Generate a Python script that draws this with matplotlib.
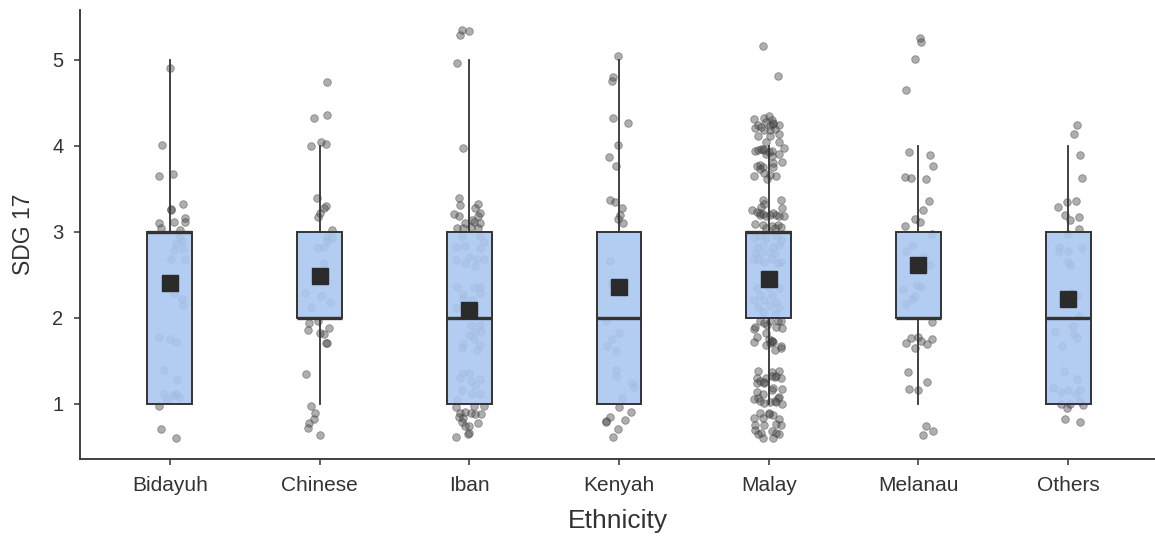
import matplotlib
matplotlib.use("Agg")
import matplotlib.pyplot as plt
import numpy as np

plt.rcParams['font.family'] = ['Liberation Sans', 'DejaVu Sans']

categories = ["Bidayuh", "Chinese", "Iban", "Kenyah", "Malay", "Melanau", "Others"]

# Box summary statistics
q1 = [1, 2, 1, 1, 2, 2, 1]
median = [3, 2, 2, 2, 3, 2, 2]
q3 = [3, 3, 3, 3, 3, 3, 3]
whisk_lo = [1, 1, 1, 1, 1, 1, 1]
whisk_hi = [5, 4, 5, 5, 4, 4, 4]
means = [2.41, 2.49, 2.09, 2.36, 2.45, 2.62, 2.22]

# Jittered points: (horizontal jitter, jittered value) per group
bidayuh_dx = [0.00, -0.05, -0.07, 0.02, 0.09, 0.01, 0.01, 0.10, 0.10, 0.03, -0.07, -0.06, 0.07,
              0.06, 0.08, 0.04, 0.03, 0.09, 0.01, 0.10, 0.03, 0.08, 0.09, -0.07, 0.00, 0.04,
              -0.04, 0.05, -0.04, 0.02, 0.04, 0.06, -0.02, -0.07, -0.06, 0.04]
bidayuh_y = [4.90, 4.01, 3.65, 3.67, 3.33, 3.27, 3.25, 3.16, 3.11, 3.11, 3.10, 3.04, 3.02,
             2.93, 2.89, 2.86, 2.79, 2.80, 2.69, 2.68, 2.29, 2.22, 2.15, 1.78, 1.75, 1.72,
             1.40, 1.28, 1.12, 1.10, 1.12, 1.08, 1.05, 0.98, 0.71, 0.60]

chinese_dx = [0.05, -0.04, 0.05, -0.06, 0.01, 0.04, -0.02, 0.04, 0.03, 0.00, -0.01, 0.08, 0.05,
              0.08, 0.05, -0.01, 0.03, 0.03, -0.10, 0.01, 0.07, -0.06, -0.07, -0.01, -0.08, 0.06,
              0.00, 0.03, 0.04, 0.05, -0.09, -0.06, -0.03, -0.04, -0.07, -0.08, 0.00]
chinese_y = [4.74, 4.33, 4.36, 4.00, 4.04, 4.02, 3.40, 3.30, 3.28, 3.22, 3.17, 3.02, 2.94,
             2.93, 2.89, 2.81, 2.83, 2.64, 2.29, 2.26, 2.19, 2.13, 1.94, 1.96, 1.86, 1.88,
             1.83, 1.81, 1.71, 1.71, 1.35, 0.98, 0.90, 0.82, 0.78, 0.72, 0.64]

iban_dx = [-0.05, 0.00, -0.06, -0.08, -0.04, -0.07, -0.06, 0.06, 0.04, 0.07, -0.10, -0.07, 0.06,
           0.02, -0.03, 0.07, 0.03, -0.08, -0.04, 0.01, 0.06, -0.05, 0.07, -0.09, -0.03, 0.10,
           0.07, 0.00, -0.09, 0.05, -0.03, 0.04, 0.10, 0.03, -0.08, 0.07, -0.04, 0.07, 0.02,
           -0.09, -0.04, 0.01, 0.07, 0.04, 0.08, 0.00, 0.03, 0.07, -0.04, -0.05, 0.05, -0.04,
           0.00, -0.06, 0.01, 0.07, 0.04, -0.05, 0.07, -0.08, 0.02, -0.09, 0.03, 0.10, -0.06,
           -0.03, 0.01, 0.04, 0.08, -0.07, -0.04, -0.05, -0.03, 0.06, 0.00, 0.00, -0.01, -0.09]
iban_y = [5.35, 5.34, 5.29, 4.96, 3.98, 3.39, 3.31, 3.32, 3.28, 3.22, 3.21, 3.18, 3.18,
          3.14, 3.10, 3.10, 3.12, 3.04, 3.05, 3.06, 3.04, 2.95, 2.95, 2.83, 2.84, 2.88,
          2.81, 2.71, 2.67, 2.69, 2.64, 2.60, 2.69, 2.36, 2.36, 2.36, 2.28, 2.29, 2.21,
          2.12, 2.22, 1.92, 1.92, 1.84, 1.85, 1.80, 1.76, 1.69, 1.70, 1.65, 1.63, 1.36,
          1.36, 1.30, 1.27, 1.29, 1.21, 1.16, 1.12, 1.05, 1.12, 0.97, 0.98, 0.98, 0.89,
          0.91, 0.90, 0.88, 0.88, 0.85, 0.84, 0.79, 0.74, 0.78, 0.74, 0.66, 0.65, 0.61]

kenyah_dx = [-0.01, -0.04, -0.05, -0.04, 0.06, -0.01, -0.07, -0.02, -0.06, -0.03, 0.02, 0.01,
             -0.01, 0.03, -0.06, -0.05, -0.09, 0.00, -0.05, -0.08, -0.02, -0.02, -0.02, 0.09,
             0.10, 0.02, 0.00, 0.08, -0.06, -0.09, -0.09, 0.04, -0.01, -0.04]
kenyah_y = [5.04, 4.80, 4.75, 4.33, 4.27, 4.01, 3.87, 3.77, 3.37, 3.35, 3.28, 3.20,
            3.15, 3.10, 2.66, 2.40, 1.97, 1.82, 1.76, 1.67, 1.61, 1.40, 1.32, 1.24,
            1.20, 1.07, 0.96, 0.91, 0.85, 0.80, 0.79, 0.81, 0.71, 0.61]

malay_dx = [-0.04, 0.06, -0.10, -0.03, 0.00, 0.02, -0.09, -0.07, -0.02, 0.01, 0.03, 0.07,
            -0.03, 0.01, 0.04, -0.07, 0.01, 0.07, -0.02, 0.07, 0.10, -0.09, -0.07, -0.05,
            -0.03, -0.02, 0.02, 0.07, 0.02, -0.08, -0.06, -0.04, -0.06, 0.03, 0.03, 0.09,
            -0.03, -0.10, 0.01, 0.05, -0.01, -0.04, -0.03, -0.05, 0.08, 0.09, -0.11, -0.08,
            -0.06, -0.04, -0.02, 0.03, 0.05, 0.07, 0.10, -0.09, -0.04, 0.02, 0.06, 0.08,
            -0.02, 0.04,
            -0.10, -0.06, -0.02, 0.05, 0.08, -0.08, -0.04, 0.03, 0.07, -0.09, -0.05, 0.00,
            0.04, -0.10, -0.07, -0.03, 0.06, 0.08, 0.02, -0.08, 0.00, 0.07, -0.06, 0.02,
            -0.10, -0.03, 0.05, -0.07, 0.01, 0.07, -0.04, 0.04,
            -0.06, -0.09, -0.10, -0.03, 0.01, 0.06, 0.08, 0.05, 0.09, -0.02, -0.08, 0.00,
            0.02, -0.10, -0.02, 0.03, 0.08, 0.04, 0.01, 0.08, -0.07, 0.02, 0.07, -0.08,
            -0.06, -0.02, 0.02, 0.05, 0.08, -0.08, -0.03, -0.08, -0.04, 0.02, 0.03, 0.09,
            0.07, -0.10, -0.07, -0.06, -0.03, 0.01, 0.04, 0.09, 0.06, -0.06, 0.00, 0.03,
            -0.10, -0.04, 0.07, -0.09, -0.03, 0.05, 0.08, -0.09, -0.07, -0.05, 0.02, 0.05,
            -0.04, 0.03, 0.07,
            -0.05, 0.03, 0.00, 0.01, -0.06, 0.04, -0.03, 0.05, 0.00, -0.01, 0.02, -0.04]
malay_y = [5.16, 4.81, 4.31, 4.33, 4.35, 4.30, 4.21, 4.24, 4.28, 4.24, 4.26, 4.24,
           4.19, 4.19, 4.20, 4.12, 4.12, 4.14, 4.04, 4.05, 3.98, 3.94, 3.95, 3.96,
           3.95, 3.91, 3.94, 3.91, 3.88, 3.77, 3.78, 3.76, 3.73, 3.80, 3.76, 3.81,
           3.68, 3.65, 3.66, 3.65, 3.62, 3.37, 3.33, 3.29, 3.37, 3.28, 3.26, 3.23,
           3.20, 3.21, 3.18, 3.22, 3.20, 3.18, 3.18, 3.09, 3.08, 3.07, 3.08, 3.06,
           3.04, 3.04,
           2.93, 2.95, 2.93, 2.95, 2.91, 2.83, 2.85, 2.83, 2.85, 2.75, 2.75, 2.77,
           2.75, 2.69, 2.67, 2.65, 2.64, 2.65, 2.69, 2.35, 2.36, 2.35, 2.27, 2.27,
           2.21, 2.21, 2.19, 2.13, 2.15, 2.11, 2.07, 2.05,
           1.96, 1.90, 1.87, 1.94, 1.96, 1.96, 1.96, 1.90, 1.88, 1.83, 1.78, 1.76,
           1.73, 1.72, 1.69, 1.72, 1.67, 1.63, 1.71, 1.65, 1.38, 1.37, 1.38, 1.30,
           1.27, 1.30, 1.32, 1.33, 1.30, 1.24, 1.24, 1.14, 1.12, 1.16, 1.19, 1.17,
           1.08, 1.06, 1.07, 1.03, 1.01, 1.02, 1.03, 1.00, 1.07, 0.89, 0.89, 0.87,
           0.84, 0.84, 0.83, 0.75, 0.76, 0.77, 0.76, 0.70, 0.65, 0.66, 0.68, 0.66,
           0.60, 0.60, 0.65,
           4.22, 4.27, 3.93, 3.20, 3.22, 1.31, 1.25, 1.02, 0.88, 1.92, 1.73, 3.96]

melanau_dx = [0.01, 0.02, -0.02, -0.08, -0.06, 0.08, 0.10, -0.09, -0.05, 0.05, 0.07, 0.03,
              -0.02, 0.01, -0.09, 0.09, -0.04, -0.08, 0.04, 0.08, -0.01, 0.02, -0.10, -0.02,
              -0.04, -0.08, 0.09, 0.00, -0.05, 0.02, 0.09, -0.08, 0.06, -0.02, -0.07, 0.06,
              -0.06, 0.00, 0.05, 0.10, 0.03]
melanau_y = [5.26, 5.21, 5.01, 4.65, 3.93, 3.90, 3.77, 3.64, 3.63, 3.62, 3.36, 3.26,
             3.15, 3.11, 3.07, 2.97, 2.85, 2.78, 2.72, 2.61, 2.38, 2.36, 2.34, 2.25,
             2.22, 2.16, 1.95, 1.78, 1.77, 1.73, 1.76, 1.71, 1.70, 1.65, 1.37, 1.25,
             1.17, 1.16, 0.74, 0.69, 0.64]

others_dx = [0.06, 0.04, 0.08, 0.09, 0.05, -0.01, -0.07, -0.02, 0.07, 0.01, 0.07, 0.00,
             -0.06, -0.06, 0.00, 0.09, 0.00, 0.01, 0.02, 0.06, 0.07, -0.09, 0.03, 0.04,
             0.06, -0.04, -0.03, 0.06, -0.10, -0.05, 0.00, 0.08, 0.05, -0.05, 0.01, 0.08,
             0.10, -0.01, -0.02, 0.08]
others_y = [4.24, 4.14, 3.90, 3.63, 3.36, 3.35, 3.29, 3.20, 3.17, 3.14, 3.03, 2.97,
            2.83, 2.77, 2.78, 2.81, 2.65, 2.62, 2.29, 2.26, 2.02, 1.84, 1.91, 1.81,
            1.77, 1.67, 1.38, 1.29, 1.18, 1.14, 1.16, 1.16, 1.11, 1.00, 1.00, 1.03,
            0.99, 0.95, 0.82, 0.79]

points_dx = [bidayuh_dx, chinese_dx, iban_dx, kenyah_dx, malay_dx, melanau_dx, others_dx]
points_y = [bidayuh_y, chinese_y, iban_y, kenyah_y, malay_y, melanau_y, others_y]

fig = plt.figure(figsize=(11.55, 5.39), dpi=100)
ax = fig.add_axes([80 / 1155, 1 - 459 / 539, 1 - 80 / 1155, (459 - 10) / 539])

positions = np.arange(1, len(categories) + 1)

# jittered points (beneath the boxes)
for pos, dx, yy in zip(positions, points_dx, points_y):
    ax.scatter(pos + np.asarray(dx), yy, s=30, facecolor=(0.3, 0.3, 0.3, 0.45),
               edgecolor=(0.25, 0.25, 0.25, 0.5), linewidths=0.6, zorder=1)

stats = []
for i, c in enumerate(categories):
    stats.append(dict(label=c, q1=q1[i], med=median[i], q3=q3[i],
                      whislo=whisk_lo[i], whishi=whisk_hi[i], fliers=[]))

edge = '#333333'
ax.bxp(stats, positions=positions, widths=0.3, showfliers=False, showcaps=False,
       patch_artist=True,
       boxprops=dict(facecolor=(0.67, 0.78, 0.94, 0.9), edgecolor=edge, linewidth=1.4),
       medianprops=dict(color=edge, linewidth=2.4, solid_capstyle='butt'),
       whiskerprops=dict(color=edge, linewidth=1.3),
       zorder=2)

ax.plot(positions, means, linestyle='none', marker='s', markersize=11,
        color='#2b2b2b', zorder=4)

ax.set_xlim(0.4, 7.58)
ax.set_ylim(0.36, 5.58)
ax.set_yticks([1, 2, 3, 4, 5])
ax.set_xticks(positions)
ax.set_xticklabels(categories)

for s in ['top', 'right']:
    ax.spines[s].set_visible(False)
for s in ['left', 'bottom']:
    ax.spines[s].set_color('#333333')
    ax.spines[s].set_linewidth(1.3)

ax.tick_params(axis='both', colors='#333333', labelcolor='#333333',
               length=4, width=1.1)
ax.tick_params(axis='x', pad=8, labelsize=15)
ax.tick_params(axis='y', pad=8, labelsize=14.5)
ax.set_xlabel('Ethnicity', fontsize=19, color='#333333', labelpad=10)
ax.set_ylabel('SDG 17', fontsize=16.5, color='#333333', labelpad=12)

fig.savefig('out.png', dpi=100)
